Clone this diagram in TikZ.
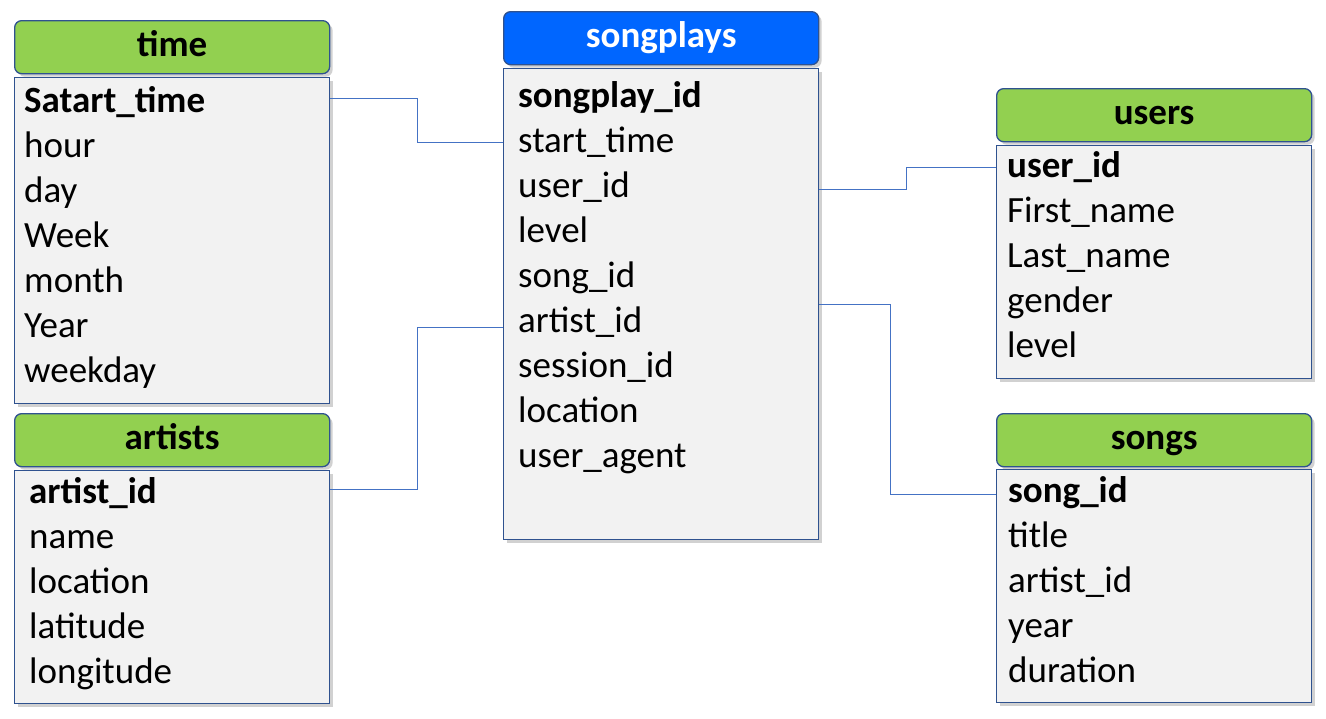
\documentclass[tikz,border=0pt]{standalone}
\usepackage{fontspec}
\setmainfont{Carlito}
\usetikzlibrary{shadows}
\definecolor{hdrgreen}{HTML}{92D050}
\definecolor{hdrblue}{HTML}{0066FF}
\definecolor{edgeblue}{HTML}{2F528F}
\definecolor{linkblue}{HTML}{4472C4}
\definecolor{bodygray}{HTML}{F2F2F2}

\begin{document}
\begin{tikzpicture}[x=1pt, y=-1pt,
    header/.style={draw=edgeblue, line width=1.3pt, rounded corners=7pt,
        minimum width=315pt, minimum height=53pt, inner sep=0pt, anchor=north west,
        font=\fontsize{37}{40}\selectfont\bfseries, text height=24pt, text depth=5pt,
        drop shadow={shadow xshift=3pt, shadow yshift=-3pt, opacity=0.3, fill=black!60}},
    tablebody/.style={draw=edgeblue, line width=1.3pt, fill=bodygray,
        minimum width=315pt, inner sep=0pt, anchor=north west,
        drop shadow={shadow xshift=3pt, shadow yshift=-3pt, opacity=0.3, fill=black!60}},
    field/.style={anchor=base west, inner sep=0pt, text height=27pt, text depth=8pt,
        font=\fontsize{37}{40}\selectfont},
    keyfield/.style={field, font=\fontsize{37}{40}\selectfont\bfseries},
    link/.style={draw=linkblue, line width=0.8pt}]
    \useasboundingbox (0,0) rectangle (1326,718);

    % time
    \node[header, fill=hdrgreen] (timehead) at (14,20) {time};
    \node[tablebody, minimum height=326pt] (timebody) at (14,77) {};
    \node[keyfield] (time-0) at (24,112) {Satart\_time};
    \foreach \name [count=\i] in {hour, day, Week, month, Year, weekday}
        \node[field] (time-\i) at (24,112+45*\i) {\name};

    % songplays
    \node[header, fill=hdrblue, text=white] (sphead) at (503,11) {songplays};
    \node[tablebody, minimum height=471pt] (spbody) at (503,68) {};
    \node[keyfield] (sp-0) at (518,107) {songplay\_id};
    \foreach \name [count=\i] in {start\_time, user\_id, level, song\_id, artist\_id,
        session\_id, location, user\_agent}
        \node[field] (sp-\i) at (518,107+45*\i) {\name};

    % users
    \node[header, fill=hdrgreen] (userhead) at (996,88) {users};
    \node[tablebody, minimum height=233pt] (userbody) at (996,145) {};
    \node[keyfield] (user-0) at (1007,177) {user\_id};
    \foreach \name [count=\i] in {First\_name, Last\_name, gender, level}
        \node[field] (user-\i) at (1007,177+45*\i) {\name};

    % artists
    \node[header, fill=hdrgreen] (arthead) at (14,413) {artists};
    \node[tablebody, minimum height=233pt] (artbody) at (14,470) {};
    \node[keyfield] (art-0) at (29,503) {artist\_id};
    \foreach \name [count=\i] in {name, location, latitude, longitude}
        \node[field] (art-\i) at (29,503+45*\i) {\name};

    % songs
    \node[header, fill=hdrgreen] (songhead) at (996,413) {songs};
    \node[tablebody, minimum height=233pt] (songbody) at (996,469) {};
    \node[keyfield] (song-0) at (1008,502) {song\_id};
    \foreach \name [count=\i] in {title, artist\_id, year, duration}
        \node[field] (song-\i) at (1008,502+45*\i) {\name};

    % Links
    \draw[link] ([yshift=4pt]timebody.east |- time-0) -- ++(87,0) |- (spbody.west |- sp-1);
    \draw[link] ([yshift=4pt]artbody.east |- art-0) -- ++(87,0) |- ([yshift=-5pt]spbody.west |- sp-5);
    \draw[link] ([yshift=-2pt]spbody.east |- sp-2) -- ++(87,0) |- (userbody.west |- user-0);
    \draw[link] (spbody.east) -- ++(71,0) |- ([yshift=-2pt]songbody.west |- song-0);
\end{tikzpicture}
\end{document}
